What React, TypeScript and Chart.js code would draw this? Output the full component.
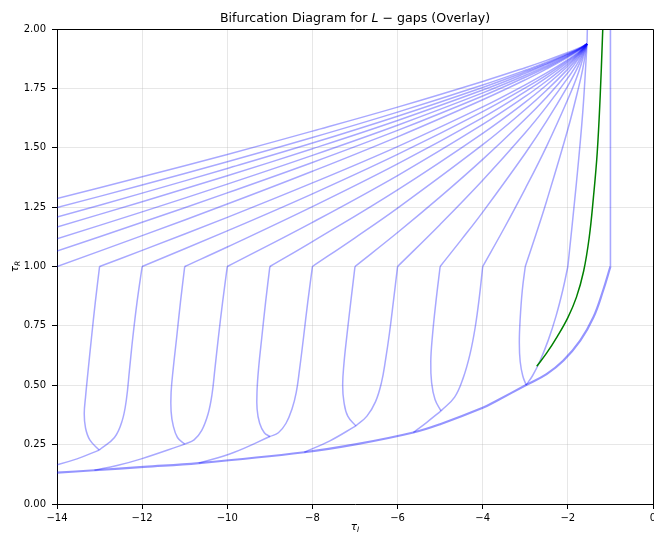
import { useEffect, useRef } from 'react';
import { Chart, registerables } from 'chart.js';

Chart.register(...registerables);

type Pt = [number, number];

const X_TICKS = [-14, -12, -10, -8, -6, -4, -2, 0];
const Y_TICKS = [0, 0.25, 0.5, 0.75, 1.0, 1.25, 1.5, 1.75, 2.0];

// Upper fan curves (each ends at the convergence point near (-1.55, 1.937))
const upperN20: Pt[] = [[-14, 1.286], [-12, 1.378], [-10, 1.472], [-8, 1.570], [-6, 1.671], [-4, 1.779], [-3, 1.837], [-2.5, 1.868], [-2, 1.901], [-1.75, 1.919], [-1.55, 1.937]];
const upperN19: Pt[] = [[-14, 1.248], [-12, 1.343], [-10, 1.441], [-8, 1.543], [-6, 1.650], [-4, 1.764], [-3, 1.826], [-2.5, 1.860], [-2, 1.896], [-1.75, 1.916], [-1.55, 1.937]];
const upperN18: Pt[] = [[-14, 1.208], [-12, 1.309], [-10, 1.413], [-8, 1.520], [-6, 1.633], [-4, 1.754], [-3, 1.820], [-2.5, 1.855], [-2, 1.894], [-1.75, 1.915], [-1.55, 1.937]];
const upperN17: Pt[] = [[-14, 1.166], [-12, 1.273], [-10, 1.382], [-8, 1.496], [-6, 1.615], [-4, 1.743], [-3, 1.813], [-2.5, 1.851], [-2, 1.891], [-1.75, 1.914], [-1.55, 1.937]];
const upperN16: Pt[] = [[-14, 1.117], [-12, 1.230], [-10, 1.347], [-8, 1.468], [-6, 1.595], [-4, 1.731], [-3, 1.805], [-2.5, 1.845], [-2, 1.888], [-1.75, 1.912], [-1.55, 1.937]];
const upperN15: Pt[] = [[-14, 1.065], [-12, 1.186], [-10, 1.310], [-8, 1.438], [-6, 1.573], [-4, 1.718], [-3, 1.797], [-2.5, 1.839], [-2, 1.885], [-1.75, 1.911], [-1.55, 1.937]];
const upperN14: Pt[] = [[-14, 1.0], [-12, 1.130], [-10, 1.263], [-8, 1.401], [-6, 1.546], [-4, 1.702], [-3, 1.786], [-2.5, 1.832], [-2, 1.881], [-1.75, 1.909], [-1.55, 1.937]];
const upperN13: Pt[] = [[-13, 1.0], [-12, 1.068], [-10, 1.207], [-8, 1.352], [-6, 1.505], [-4, 1.672], [-3, 1.765], [-2.5, 1.815], [-2, 1.871], [-1.75, 1.903], [-1.55, 1.937]];
const upperN12: Pt[] = [[-12, 1.0], [-10, 1.150], [-8, 1.306], [-6, 1.472], [-4, 1.652], [-3, 1.752], [-2.5, 1.806], [-2, 1.866], [-1.75, 1.900], [-1.55, 1.937]];
const upperN11: Pt[] = [[-11, 1.0], [-10, 1.082], [-8, 1.252], [-6, 1.432], [-4, 1.627], [-3, 1.736], [-2.5, 1.795], [-2, 1.860], [-1.75, 1.897], [-1.55, 1.937]];
const upperN10: Pt[] = [[-10, 1.0], [-8, 1.186], [-6, 1.383], [-4, 1.598], [-3, 1.716], [-2.5, 1.781], [-2, 1.852], [-1.75, 1.894], [-1.55, 1.937]];
const upperN9: Pt[] = [[-9, 1.0], [-8, 1.105], [-6, 1.323], [-4, 1.561], [-3, 1.692], [-2.5, 1.764], [-2, 1.843], [-1.75, 1.889], [-1.55, 1.937]];
const upperN8: Pt[] = [[-8, 1.0], [-7, 1.121], [-6, 1.246], [-4, 1.513], [-3, 1.661], [-2.5, 1.742], [-2, 1.831], [-1.75, 1.883], [-1.55, 1.937]];
const upperN7: Pt[] = [[-7, 1.0], [-6, 1.143], [-5, 1.293], [-4, 1.451], [-3, 1.621], [-2.5, 1.713], [-2, 1.816], [-1.75, 1.875], [-1.55, 1.937]];
const upperN6: Pt[] = [[-6, 1.0], [-5, 1.177], [-4, 1.363], [-3, 1.563], [-2.5, 1.673], [-2, 1.794], [-1.75, 1.863], [-1.55, 1.937]];
const upperN5: Pt[] = [[-5, 1.0], [-4.5, 1.113], [-4, 1.229], [-3, 1.477], [-2.5, 1.612], [-2, 1.761], [-1.75, 1.846], [-1.55, 1.937]];
const upperN4: Pt[] = [[-4, 1.0], [-3.5, 1.160], [-3, 1.328], [-2.5, 1.506], [-2, 1.704], [-1.75, 1.817], [-1.55, 1.937]];
const upperN3: Pt[] = [[-3, 1.0], [-2.75, 1.135], [-2.5, 1.275], [-2, 1.578], [-1.75, 1.752], [-1.65, 1.832], [-1.55, 1.937]];
const upperN2: Pt[] = [[-2, 1.0], [-1.8, 1.35], [-1.65, 1.65], [-1.55, 1.937]];

const UPPER_CURVES: Pt[][] = [upperN20, upperN19, upperN18, upperN17, upperN16, upperN15, upperN14, upperN13, upperN12, upperN11, upperN10, upperN9, upperN8, upperN7, upperN6, upperN5, upperN4, upperN3, upperN2];

// U-shaped lower branches (left and right), each from tau_R = 1 down to the bottom junction
const u13Left: Pt[] = [[-13.0, 1.0], [-13.10, 0.85], [-13.19, 0.70], [-13.27, 0.56], [-13.33, 0.45], [-13.36, 0.38], [-13.33, 0.32], [-13.23, 0.27], [-13.01, 0.227]];
const u13Right: Pt[] = [[-12.0, 1.0], [-12.12, 0.85], [-12.22, 0.70], [-12.30, 0.56], [-12.37, 0.44], [-12.47, 0.35], [-12.65, 0.28], [-13.01, 0.227]];
const u11Left: Pt[] = [[-11.0, 1.0], [-11.10, 0.85], [-11.19, 0.70], [-11.27, 0.57], [-11.32, 0.47], [-11.32, 0.39], [-11.27, 0.33], [-11.17, 0.28], [-11.0, 0.252]];
const u11Right: Pt[] = [[-10.0, 1.0], [-10.11, 0.85], [-10.21, 0.70], [-10.29, 0.57], [-10.36, 0.46], [-10.45, 0.38], [-10.60, 0.31], [-10.78, 0.27], [-11.0, 0.252]];
const u9Left: Pt[] = [[-9.0, 1.0], [-9.10, 0.85], [-9.19, 0.70], [-9.26, 0.58], [-9.30, 0.48], [-9.30, 0.40], [-9.24, 0.34], [-9.13, 0.30], [-9.0, 0.284]];
const u9Right: Pt[] = [[-8.0, 1.0], [-8.11, 0.85], [-8.21, 0.70], [-8.30, 0.57], [-8.38, 0.47], [-8.48, 0.40], [-8.62, 0.34], [-8.80, 0.30], [-9.0, 0.284]];
const u7Left: Pt[] = [[-7.0, 1.0], [-7.10, 0.85], [-7.19, 0.71], [-7.26, 0.59], [-7.29, 0.50], [-7.26, 0.43], [-7.17, 0.37], [-6.98, 0.329]];
const u7Right: Pt[] = [[-6.0, 1.0], [-6.10, 0.85], [-6.19, 0.72], [-6.28, 0.61], [-6.38, 0.51], [-6.52, 0.43], [-6.72, 0.37], [-6.98, 0.329]];
const u5Left: Pt[] = [[-5.0, 1.0], [-5.10, 0.85], [-5.18, 0.71], [-5.22, 0.60], [-5.20, 0.51], [-5.12, 0.44], [-4.98, 0.392]];
const u5Right: Pt[] = [[-4.0, 1.0], [-4.08, 0.87], [-4.18, 0.74], [-4.30, 0.63], [-4.46, 0.53], [-4.66, 0.45], [-4.98, 0.392]];
const u3Left: Pt[] = [[-3.0, 1.0], [-3.07, 0.90], [-3.12, 0.78], [-3.14, 0.68], [-3.12, 0.60], [-3.06, 0.54], [-2.98, 0.501]];
const u3Right: Pt[] = [[-2.0, 1.0], [-2.12, 0.90], [-2.28, 0.79], [-2.46, 0.69], [-2.66, 0.60], [-2.83, 0.54], [-2.98, 0.501]];

const U_BRANCHES: Pt[][] = [u13Left, u13Right, u11Left, u11Right, u9Left, u9Right, u7Left, u7Right, u5Left, u5Right, u3Left, u3Right];

// Connectors from the U bottoms down to the lower envelope
const conn13: Pt[] = [[-13.01, 0.227], [-13.53, 0.19], [-14.2, 0.155]];
const conn11: Pt[] = [[-11.0, 0.252], [-12.04, 0.189], [-12.59, 0.162], [-13.12, 0.142]];
const conn9: Pt[] = [[-9.0, 0.284], [-9.85, 0.217], [-10.67, 0.172]];
const conn7: Pt[] = [[-6.98, 0.329], [-7.59, 0.266], [-8.19, 0.218]];
const conn5: Pt[] = [[-4.98, 0.392], [-5.32, 0.343], [-5.63, 0.301]];

const CONNECTORS: Pt[][] = [conn13, conn11, conn9, conn7, conn5];

// Lower envelope from (-1, 1) to the left edge
const envelope: Pt[] = [[-1.0, 1.0], [-1.17, 0.90], [-1.40, 0.786], [-1.71, 0.688], [-2.11, 0.603], [-2.50, 0.547], [-2.98, 0.501], [-3.67, 0.435], [-4.0, 0.405], [-5.0, 0.336], [-5.63, 0.301], [-6.96, 0.252], [-8.19, 0.218], [-10.67, 0.172], [-11.96, 0.156], [-13.12, 0.142], [-14.0, 0.132]];

// Vertical segments
const verticalRight: Pt[] = [[-1.0, 1.0], [-1.0, 2.1]];
const verticalTop: Pt[] = [[-1.55, 1.937], [-1.53, 2.1]];

// Green curve
const greenCurve: Pt[] = [[-2.73, 0.58], [-2.5, 0.635], [-2.25, 0.705], [-2.0, 0.785], [-1.8, 0.87], [-1.63, 0.98], [-1.5, 1.12], [-1.4, 1.29], [-1.31, 1.48], [-1.24, 1.72], [-1.19, 1.95], [-1.17, 2.05]];

const BLUE = 'rgba(0,0,255,0.34)';
const BLUE_DARK = 'rgba(0,0,255,0.42)';
const GREEN = '#008000';

function ds(points: Pt[], color: string, width: number, order = 0) {
  return {
    data: points.map(([x, y]) => ({ x, y })),
    showLine: true,
    borderColor: color,
    backgroundColor: color,
    borderWidth: width,
    pointRadius: 0,
    pointHoverRadius: 0,
    tension: 0.4,
    fill: false,
    clip: 0,
    order,
  };
}

const FONT = '"DejaVu Sans", sans-serif';

const decorPlugin = {
  id: 'decor',
  afterDraw(chart: any) {
    const { ctx, chartArea } = chart;
    const { left, right, top, bottom } = chartArea;
    ctx.save();
    // frame
    ctx.strokeStyle = '#000';
    ctx.lineWidth = 1;
    ctx.beginPath();
    ctx.moveTo(Math.round(left) + 0.5, Math.round(top) + 0.5);
    ctx.lineTo(Math.round(right) + 0.5, Math.round(top) + 0.5);
    ctx.lineTo(Math.round(right) + 0.5, Math.round(bottom) + 0.5);
    ctx.stroke();

    ctx.fillStyle = '#000';
    ctx.textBaseline = 'alphabetic';
    // title with italic L
    const cx = (left + right) / 2;
    const p1 = 'Bifurcation Diagram for ';
    const p2 = 'L';
    const p3 = ' \u2212 gaps (Overlay)';
    const normal = '12.6px ' + FONT;
    const italic = 'oblique 12.6px ' + FONT;
    ctx.font = normal;
    const w1 = ctx.measureText(p1).width;
    const w3 = ctx.measureText(p3).width;
    ctx.font = italic;
    const w2 = ctx.measureText(p2).width;
    let x = cx - (w1 + w2 + w3) / 2;
    const ty = 22;
    ctx.textAlign = 'left';
    ctx.font = normal;
    ctx.fillText(p1, x, ty);
    x += w1;
    ctx.font = italic;
    ctx.fillText(p2, x, ty);
    x += w2;
    ctx.font = normal;
    ctx.fillText(p3, x, ty);

    const drawTau = (sub: string, bx: number, by: number) => {
      ctx.font = 'oblique 10.5px ' + FONT;
      const wt = ctx.measureText('\u03c4').width;
      ctx.font = 'oblique 7.5px ' + FONT;
      const ws = ctx.measureText(sub).width;
      const start = bx - (wt + ws) / 2;
      ctx.font = 'oblique 10.5px ' + FONT;
      ctx.fillText('\u03c4', start, by);
      ctx.font = 'oblique 7.5px ' + FONT;
      ctx.fillText(sub, start + wt, by + 2);
    };
    drawTau('I', cx, 530);

    ctx.save();
    ctx.translate(18, (top + bottom) / 2);
    ctx.rotate(-Math.PI / 2);
    drawTau('R', 0, 0);
    ctx.restore();

    ctx.restore();
  },
};

export default function App() {
  const ref = useRef<HTMLCanvasElement>(null);

  useEffect(() => {
    const datasets: any[] = [];
    datasets.push(ds(greenCurve, GREEN, 1.5, -1));
    UPPER_CURVES.forEach((c) => datasets.push(ds(c, BLUE, 1.5)));
    U_BRANCHES.forEach((c) => datasets.push(ds(c, BLUE, 1.5)));
    CONNECTORS.forEach((c) => datasets.push(ds(c, BLUE, 1.5)));
    datasets.push(ds(envelope, BLUE_DARK, 2.2));
    datasets.push(ds(verticalRight, BLUE, 1.6));
    datasets.push(ds(verticalTop, BLUE, 1.5));

    const gridColor = 'rgba(176,176,176,0.3)';
    const chart = new Chart(ref.current as HTMLCanvasElement, {
      type: 'scatter',
      data: { datasets },
      options: {
        animation: false,
        responsive: false,
        devicePixelRatio: 1,
        events: [],
        layout: { padding: { left: 0, top: 29, right: 47, bottom: 0 } },
        plugins: { legend: { display: false }, tooltip: { enabled: false }, title: { display: false } },
        scales: {
          x: {
            type: 'linear',
            min: -14,
            max: 0,
            afterBuildTicks: (scale: any) => {
              scale.ticks = X_TICKS.map((v) => ({ value: v }));
            },
            afterFit: (scale: any) => {
              scale.height = 30;
            },
            ticks: {
              color: '#000',
              font: { family: FONT, size: 10 },
              padding: 3,
              maxRotation: 0,
              callback: (v: any) => {
                const n = Number(v);
                return n < 0 ? '\u2212' + Math.abs(n) : String(n);
              },
            },
            grid: { color: gridColor, lineWidth: 1, tickColor: '#000', tickLength: 5, tickWidth: 1 },
            border: { display: true, color: '#000', width: 1 },
          },
          y: {
            type: 'linear',
            min: 0,
            max: 2,
            afterBuildTicks: (scale: any) => {
              scale.ticks = Y_TICKS.map((v) => ({ value: v }));
            },
            afterFit: (scale: any) => {
              scale.width = 57;
            },
            ticks: {
              color: '#000',
              font: { family: FONT, size: 10 },
              padding: 6,
              callback: (v: any) => Number(v).toFixed(2),
            },
            grid: { color: gridColor, lineWidth: 1, tickColor: '#000', tickLength: 5, tickWidth: 1 },
            border: { display: true, color: '#000', width: 1 },
          },
        },
      } as any,
      plugins: [decorPlugin],
    });
    return () => chart.destroy();
  }, []);

  return (
    <div style={{ position: 'fixed', left: 0, top: 0, width: 654, height: 534, overflow: 'hidden', background: '#fff' }}>
      <canvas ref={ref} width={700} height={534} style={{ width: 700, height: 534, display: 'block' }} />
    </div>
  );
}
